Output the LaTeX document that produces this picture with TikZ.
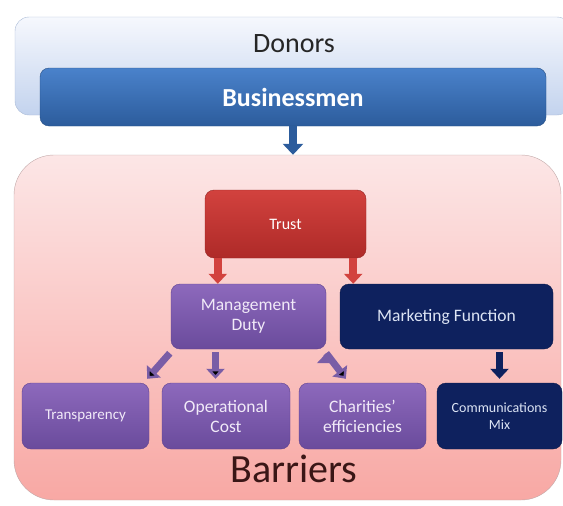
\documentclass[tikz,border=0pt]{standalone}
\usepackage{fontspec}
\setmainfont{Carlito}
\usepackage{xcolor}
\usetikzlibrary{arrows.meta}
\definecolor{donorsTop}{HTML}{F6F8FD}
\definecolor{donorsBot}{HTML}{C3D3EE}
\definecolor{donorsLine}{HTML}{A9BAD6}
\definecolor{bmTop}{HTML}{4A82CB}
\definecolor{bmBot}{HTML}{2C5C9C}
\definecolor{barTop}{HTML}{FCE6E6}
\definecolor{barBot}{HTML}{F8A8A4}
\definecolor{barLine}{HTML}{C2A9A9}
\definecolor{barText}{HTML}{3A1616}
\definecolor{trustTop}{HTML}{D2423E}
\definecolor{trustBot}{HTML}{AE2A28}
\definecolor{mdTop}{HTML}{8D69BC}
\definecolor{mdBot}{HTML}{6A4B9C}
\definecolor{mdLine}{HTML}{5E4290}
\definecolor{mdText}{HTML}{F1EAF8}
\definecolor{navy}{HTML}{0E215E}
\definecolor{navyText}{HTML}{DCE4F4}

\begin{document}
\begin{tikzpicture}[x=1pt,y=-1pt,
	box/.style={rounded corners=9pt,minimum height=66pt,inner sep=2pt,align=center,font=\fontsize{17.5}{20}\selectfont},
	purplebox/.style={box,top color=mdTop,bottom color=mdBot,draw=mdLine,text=mdText},
	navybox/.style={box,fill=navy,draw=navy!80!black,text=navyText},
	blockarrow/.style={line width=8pt,-{Triangle[width=20pt,length=11pt]}},
	smallarrow/.style={line width=7pt,-{Triangle[width=18pt,length=10pt]}}]
	\clip (0,0) rectangle (563,506);
	%
	\node[rounded corners=14pt,minimum width=556pt,minimum height=98pt,top color=donorsTop,bottom color=donorsBot,draw=donorsLine] (donors) at (293,66) {};
	\node[font=\fontsize{28}{30}\selectfont,text=black!85] (donorsLbl) at (294,44) {Donors};
	\node[rounded corners=9pt,minimum width=506pt,minimum height=58pt,top color=bmTop,bottom color=bmBot,draw=bmBot!85!black,text=white,font=\fontsize{26}{28}\selectfont\bfseries] (bm) at (293,97) {Businessmen};
	%
	\node[rounded corners=40pt,minimum width=547pt,minimum height=345pt,top color=barTop,bottom color=barBot,draw=barLine] (barriers) at (287.5,327.5) {};
	\node[font=\fontsize{40}{42}\selectfont,text=barText,anchor=base] (barriersLbl) at (294,482) {Barriers};
	%
	\node[box,minimum width=161pt,minimum height=68pt,top color=trustTop,bottom color=trustBot,draw=trustBot!85!black,text=white,font=\fontsize{16}{18}\selectfont] (trust) at (285.5,224) {Trust};
	\node[purplebox,minimum width=155pt,minimum height=65pt] (md) at (248.5,316.5) {Management\\Duty};
	\node[navybox,minimum width=213pt,minimum height=65pt] (mf) at (446.5,316.5) {Marketing Function};
	%
	\node[purplebox,minimum width=127pt,font=\fontsize{15}{17}\selectfont] (transp) at (85.5,416) {Transparency};
	\node[purplebox,minimum width=128pt] (opcost) at (226,416) {Operational\\Cost};
	\node[purplebox,minimum width=127pt] (charities) at (362.5,416) {Charities'\\efficiencies};
	\node[navybox,minimum width=125pt,font=\fontsize{14}{17}\selectfont] (comm) at (499.5,416) {Communications\\Mix};
	%
	\draw[blockarrow,draw=bmBot] (bm.south) -- (bm.south |- barriers.north);
	\draw[smallarrow,line width=8pt,draw=trustTop] ([xshift=13pt]trust.south west) -- ([xshift=13pt]trust.south west |- md.north);
	\draw[smallarrow,line width=8pt,draw=trustTop] ([xshift=-13pt]trust.south east) -- ([xshift=-13pt]trust.south east |- mf.north);
	\path[smallarrow,draw=mdBot!90!white]
		([shift={(-1pt,-4pt)}]md.south west) edge ([shift={(-2pt,4pt)}]transp.north east)
		([xshift=-33pt,yshift=-3pt]md.south) edge ([xshift=-33pt,yshift=4pt]md.south |- opcost.north)
		([shift={(0pt,-4pt)}]md.south east) edge ([shift={(47pt,4pt)}]charities.north west);
	\draw[smallarrow,draw=navy] ([yshift=-3pt]comm.north |- mf.south) -- ([yshift=4pt]comm.north);
\end{tikzpicture}
\end{document}
